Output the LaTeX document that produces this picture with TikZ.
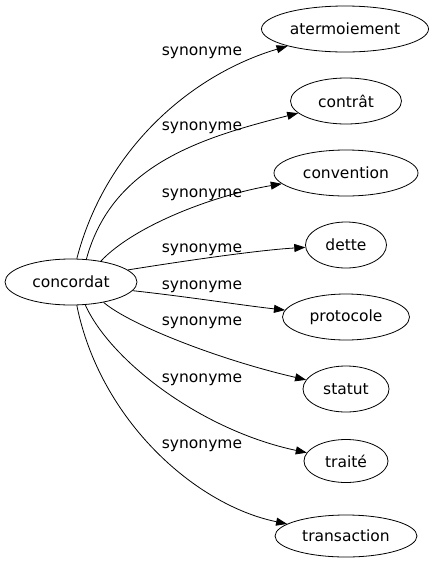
\documentclass[tikz,border=0pt]{standalone}
\usepackage{fontspec}
\setmainfont{DejaVu Sans}
\usetikzlibrary{shapes.geometric,arrows.meta}
\begin{document}
\begin{tikzpicture}[x=1pt,y=-1pt,
  word/.style={draw,ellipse,inner sep=0pt,minimum height=46pt,font=\fontsize{15.5}{18}\selectfont,line width=0.8pt},
  edge/.style={line width=0.8pt,-{Triangle[length=11pt,width=8pt]}},
  lab/.style={font=\fontsize{15.5}{18}\selectfont,inner sep=0pt}]
\useasboundingbox (0,0) rectangle (437,563);
\node[word,minimum width=132pt,minimum height=46pt] (c) at (71,282) {concordat};
\node[word,minimum width=167pt] (t1) at (345,29) {atermoiement};
\node[word,minimum width=111pt] (t2) at (346,101) {contrât};
\node[word,minimum width=144pt] (t3) at (346,173) {convention};
\node[word,minimum width=81pt] (t4) at (346,245) {dette};
\node[word,minimum width=127pt] (t5) at (346,317) {protocole};
\node[word,minimum width=86pt] (t6) at (346,389) {statut};
\node[word,minimum width=84pt,minimum height=43pt] (t7) at (346,461) {traité};
\node[word,minimum width=142pt,minimum height=42pt] (t8) at (346,536) {transaction};
\draw[edge] (c.76) .. controls (105,150) and (190,75) .. (t1);
\draw[edge] (c.56) .. controls (112,165) and (200,138) .. (t2);
\draw[edge] (c.35) .. controls (135,225) and (215,195) .. (t3);
\draw[edge] (c.12) .. controls (190,260) and (260,250) .. (t4);
\draw[edge] (c.-8) .. controls (190,297) and (240,305) .. (t5);
\draw[edge] (c.-32) .. controls (130,325) and (220,360) .. (t6);
\draw[edge] (c.-58) .. controls (110,360) and (200,430) .. (t7);
\draw[edge] (c.-76) .. controls (100,420) and (195,505) .. (t8);
\node[lab] (l1) at (202,53) {synonyme};
\node[lab] (l2) at (202,128) {synonyme};
\node[lab] (l3) at (202,195) {synonyme};
\node[lab] (l4) at (202,250) {synonyme};
\node[lab] (l5) at (202,287) {synonyme};
\node[lab] (l6) at (202,323) {synonyme};
\node[lab] (l7) at (202,380) {synonyme};
\node[lab] (l8) at (202,446) {synonyme};
\end{tikzpicture}
\end{document}
